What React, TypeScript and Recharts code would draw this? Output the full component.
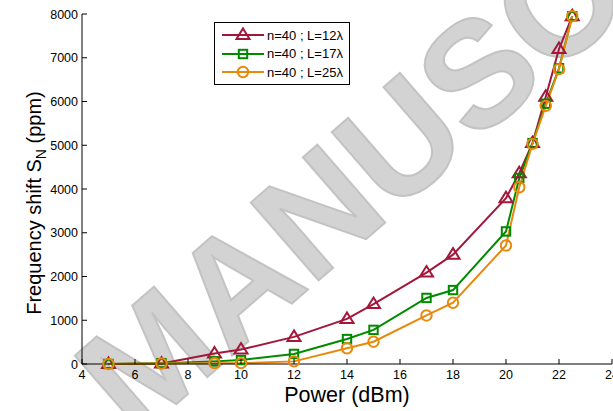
import { LineChart, Line, XAxis, YAxis, Legend, Customized } from 'recharts'

const power = [5, 7, 9, 10, 12, 14, 15, 17, 18, 20, 20.5, 21, 21.5, 22, 22.5]
const shiftL12 = [0, 10, 240, 330, 620, 1030, 1370, 2090, 2500, 3790, 4360, 5050, 6110, 7200, 7950]
const shiftL17 = [0, 20, 60, 90, 230, 570, 780, 1510, 1690, 3030, 4250, 5050, 5950, 6760, 7950]
const shiftL25 = [0, 10, 20, 20, 60, 360, 510, 1110, 1400, 2710, 4040, 5030, 5900, 6740, 7950]
const xTicks = [4, 6, 8, 10, 12, 14, 16, 18, 20, 22, 24]
const yTicks = [0, 1000, 2000, 3000, 4000, 5000, 6000, 7000, 8000]
const seriesNames = ['n=40 ; L=12λ', 'n=40 ; L=17λ', 'n=40 ; L=25λ']

const RED = '#a3173b'
const GREEN = '#008a00'
const ORANGE = '#e8890c'
const FONT = '"Liberation Sans", Arial, sans-serif'

const data = power.map((p, i) => ({ p, a: shiftL12[i], b: shiftL17[i], c: shiftL25[i] }))

function Triangle({ cx, cy, color }: any) {
  if (cx == null || cy == null) return null
  return <path d={`M${cx},${cy - 6.5} L${cx + 6.5},${cy + 4} L${cx - 6.5},${cy + 4} Z`} fill="none" stroke={color} strokeWidth={2} />
}
function Square({ cx, cy, color }: any) {
  if (cx == null || cy == null) return null
  return <rect x={cx - 4.2} y={cy - 4.2} width={8.4} height={8.4} fill="none" stroke={color} strokeWidth={2} />
}
function Circle({ cx, cy, color }: any) {
  if (cx == null || cy == null) return null
  return <circle cx={cx} cy={cy} r={5.2} fill="none" stroke={color} strokeWidth={2} />
}

const BottomTick = ({ x, y, payload }: any) => (
  <g>
    <line x1={x} y1={y} x2={x} y2={y - 5} stroke="#000" />
    <text x={x} y={y + 14.5} textAnchor="middle" fontSize={12.5} fontFamily={FONT} fill="#000">{payload.value}</text>
  </g>
)
const TopTick = ({ x, y }: any) => <line x1={x} y1={y} x2={x} y2={y + 5} stroke="#000" />
const LeftTick = ({ x, y, payload }: any) => (
  <g>
    <line x1={x} y1={y} x2={x + 5} y2={y} stroke="#000" />
    <text x={x - 4} y={y + 4.5} textAnchor="end" fontSize={12.5} fontFamily={FONT} fill="#000">{payload.value}</text>
  </g>
)
const RightTick = ({ x, y }: any) => <line x1={x} y1={y} x2={x - 5} y2={y} stroke="#000" />

function LegendBox() {
  const icons = [Triangle, Square, Circle]
  const colors = [RED, GREEN, ORANGE]
  return (
    <div style={{ width: 136, height: 63, border: '1.5px solid #000', background: '#fff', boxSizing: 'border-box', paddingTop: 3 }}>
      {seriesNames.map((name, i) => {
        const Icon = icons[i]
        return (
          <div key={name} style={{ display: 'flex', alignItems: 'center', height: 18.5 }}>
            <svg width={52} height={18}>
              <line x1={7} y1={9} x2={49} y2={9} stroke={colors[i]} strokeWidth={2} />
              <Icon cx={28} cy={9} color={colors[i]} />
            </svg>
            <span style={{ fontFamily: FONT, fontSize: 13, color: '#000' }}>{name}</span>
          </div>
        )
      })}
    </div>
  )
}

function Labels() {
  return (
    <g fontFamily={FONT} fill="#000">
      <text x={347} y={402} textAnchor="middle" fontSize={21.5}>Power (dBm)</text>
      <text transform="translate(41,203) rotate(-90)" textAnchor="middle" fontSize={20}>
        Frequency shift S<tspan fontSize={14} dy={5}>N</tspan><tspan dy={-5}> (ppm)</tspan>
      </text>
    </g>
  )
}

function Watermark() {
  return (
    <g opacity={0.5} pointerEvents="none">
      <text transform="translate(135,440) rotate(-41)" fontSize={150} fontWeight="bold" fontFamily={FONT} fill="#a8a8a8" stroke="#888" strokeWidth={2}>
        MANUSCRIPT
      </text>
    </g>
  )
}

export default function App() {
  return (
    <div style={{ position: 'absolute', left: 0, top: 0, width: 613, height: 411, background: '#fff' }}>
      <LineChart width={613} height={411} data={data} margin={{ top: 14, right: 1, bottom: 0, left: 0 }}>
        <XAxis dataKey="p" type="number" domain={[4, 24]} ticks={xTicks} height={47} tickSize={0} tickMargin={0} tickLine={false} tick={<BottomTick />} stroke="#000" interval={0} />
        <XAxis xAxisId="top" orientation="top" dataKey="p" type="number" domain={[4, 24]} ticks={xTicks} height={0} tickSize={0} tickMargin={0} tickLine={false} tick={<TopTick />} stroke="#000" interval={0} />
        <YAxis type="number" domain={[0, 8000]} ticks={yTicks} width={82} tickSize={0} tickMargin={0} tickLine={false} tick={<LeftTick />} stroke="#000" interval={0} />
        <YAxis yAxisId="right" orientation="right" type="number" domain={[0, 8000]} ticks={yTicks} width={0} tickSize={0} tickMargin={0} tickLine={false} tick={<RightTick />} stroke="#000" interval={0} />
        <Line dataKey="a" name={seriesNames[0]} stroke={RED} strokeWidth={2} isAnimationActive={false} dot={(p: any) => <Triangle key={`a${p.index}`} cx={p.cx} cy={p.cy} color={RED} />} />
        <Line dataKey="b" name={seriesNames[1]} stroke={GREEN} strokeWidth={2} isAnimationActive={false} dot={(p: any) => <Square key={`b${p.index}`} cx={p.cx} cy={p.cy} color={GREEN} />} />
        <Line dataKey="c" name={seriesNames[2]} stroke={ORANGE} strokeWidth={2} isAnimationActive={false} dot={(p: any) => <Circle key={`c${p.index}`} cx={p.cx} cy={p.cy} color={ORANGE} />} />
        <Customized component={Labels} />
        <Customized component={Watermark} />
        <Legend layout="vertical" align="center" verticalAlign="middle" content={() => <LegendBox />} wrapperStyle={{ position: 'absolute', left: 214, top: 22, width: 136, height: 63 }} />
      </LineChart>
    </div>
  )
}
